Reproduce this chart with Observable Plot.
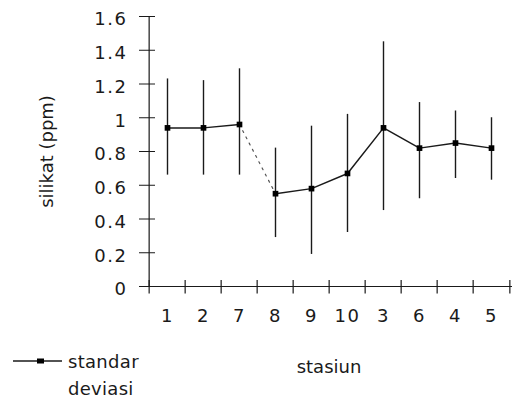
<!DOCTYPE html>
<html>
<head>
<meta charset="utf-8">
<script src="https://cdn.jsdelivr.net/npm/d3@7"></script>
<script src="https://cdn.jsdelivr.net/npm/@observablehq/plot@0.6"></script>
<style>
  html, body { margin: 0; padding: 0; background: #fff; }
  #wrap { position: relative; width: 515px; height: 400px; overflow: hidden; }
  #legend { position: absolute; left: 0; top: 340px; width: 200px; height: 60px; }
  #chart g[aria-label="y-axis tick label"], #chart g[aria-label="x-axis tick label"] { letter-spacing: 1.5px; }
</style>
</head>
<body>
<div id="wrap">
  <div id="chart"></div>
  <svg id="legend" width="200" height="60"></svg>
</div>
<script>
// Data
const stations = ["1", "2", "7", "8", "9", "10", "3", "6", "4", "5"];
const silikat  = [0.94, 0.94, 0.96, 0.55, 0.58, 0.67, 0.94, 0.82, 0.85, 0.82];
const upper    = [1.23, 1.22, 1.29, 0.82, 0.95, 1.02, 1.45, 1.09, 1.04, 1.00];
const lower    = [0.66, 0.66, 0.66, 0.29, 0.19, 0.32, 0.45, 0.52, 0.64, 0.63];
const yTicks   = [0, 0.2, 0.4, 0.6, 0.8, 1, 1.2, 1.4, 1.6];
const xTitle = "stasiun";
const yTitle = "silikat (ppm)";
const legendLabel = ["standar", "deviasi"];

const data = stations.map((s, i) => ({s, v: silikat[i], hi: upper[i], lo: lower[i]}));

const W = 515, H = 400;
const mL = 145, mR = 3, mT = 16, mB = 114;
const bw = (W - mL - mR) / stations.length;
const ink = "#1a1a1a";

const chart = Plot.plot({
  width: W,
  height: H,
  marginLeft: mL,
  marginRight: mR,
  marginTop: mT,
  marginBottom: mB,
  style: {fontFamily: "DejaVu Sans", fontSize: "18px", color: ink, background: "#fff"},
  x: {type: "band", domain: stations, padding: 0},
  y: {domain: [0, 1.6]},
  marks: [
    // tick labels + titles
    Plot.axisY({ticks: yTicks, tickSize: 0, tickPadding: 18, dy: 3, fontSize: 18, tickFormat: d => String(d),
                label: yTitle, labelAnchor: "center", labelOffset: 105, labelArrow: false}),
    Plot.axisY({ticks: yTicks, tickSize: 16, dx: 10, tickFormat: () => "", label: null, stroke: ink}),
    Plot.axisX({tickSize: 0, tickPadding: 23, fontSize: 18,
                label: xTitle, labelAnchor: "center", labelOffset: 86, labelArrow: false}),
    // axis lines
    Plot.ruleY([0], {stroke: ink, strokeWidth: 1.2}),
    Plot.ruleX([stations[0]], {dx: -bw / 2, y1: 0, y2: 1.6, stroke: ink, strokeWidth: 1.2}),
    // x tick marks at category boundaries
    Plot.ruleX(stations, {x: d => d, dx: -bw / 2, y1: -0.045, y2: 0.035, stroke: ink, strokeWidth: 1.2}),
    Plot.ruleX([stations[stations.length - 1]], {dx: bw / 2, y1: -0.045, y2: 0.035, stroke: ink, strokeWidth: 1.2}),
    // error bars
    Plot.ruleX(data, {x: "s", y1: "lo", y2: "hi", stroke: ink, strokeWidth: 1.4}),
    // connecting line
    Plot.line(data.slice(0, 3), {x: "s", y: "v", stroke: ink, strokeWidth: 1.5}),
    Plot.line(data.slice(2, 4), {x: "s", y: "v", stroke: "#555", strokeWidth: 1.2, strokeDasharray: "2,5"}),
    Plot.line(data.slice(3), {x: "s", y: "v", stroke: ink, strokeWidth: 1.5}),
    // markers
    Plot.dot(data, {x: "s", y: "v", symbol: "square", r: 3.2, fill: "#000", stroke: "none"})
  ]
});
document.getElementById("chart").appendChild(chart);

// legend
const lg = d3.select("#legend");
lg.append("line").attr("x1", 13).attr("x2", 62).attr("y1", 21).attr("y2", 21)
  .attr("stroke", ink).attr("stroke-width", 1.3);
lg.append("rect").attr("x", 37).attr("y", 18.5).attr("width", 7).attr("height", 5).attr("fill", "#000");
lg.selectAll("text.l").data(legendLabel).join("text")
  .attr("x", 68).attr("y", (d, i) => 28 + i * 27)
  .attr("font-family", "DejaVu Sans").attr("font-size", 18).attr("fill", ink)
  .attr("letter-spacing", "0.3px")
  .text(d => d);
</script>
</body>
</html>
